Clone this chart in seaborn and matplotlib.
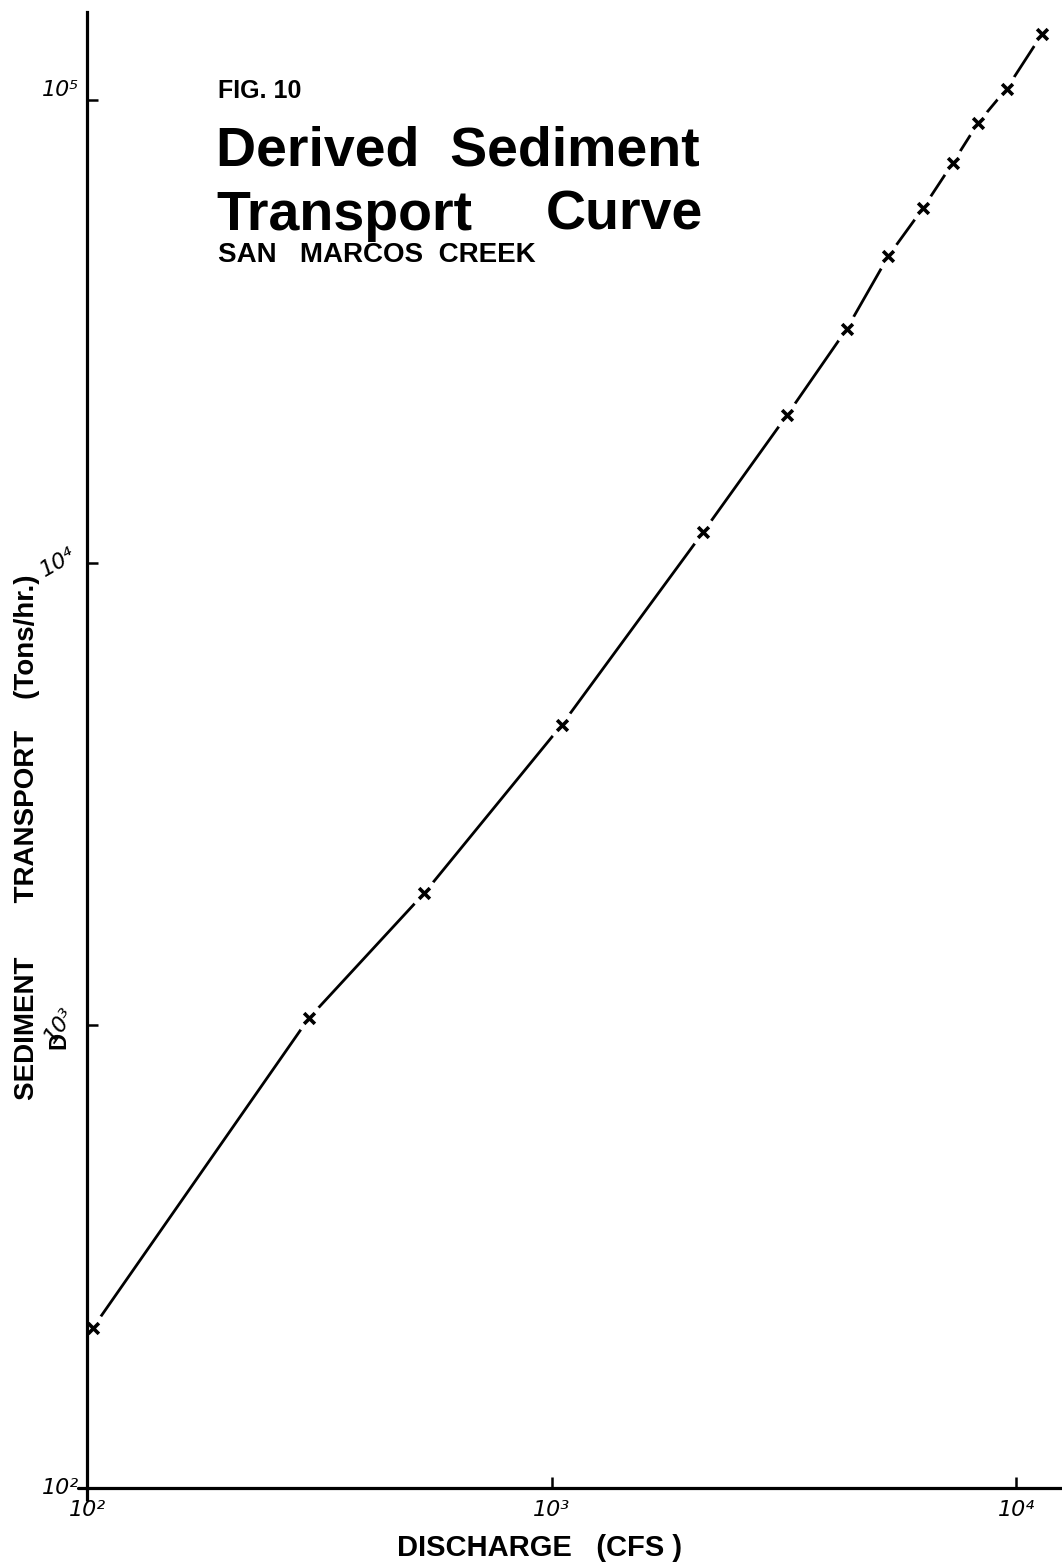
import matplotlib
matplotlib.use("Agg")
import matplotlib.pyplot as plt
import seaborn as sns
import pandas as pd
from matplotlib.ticker import NullLocator

# values
discharge = [103, 300, 532, 1052, 2120, 3220, 4320, 5310, 6300, 7300, 8290, 9550, 11360]
transport = [222, 1035, 1930, 4460, 11640, 20900, 32000, 46000, 58300, 73000, 89300, 105900, 138600]

x_ticks = [100, 1000, 10000]
x_tick_labels = ["10²", "10³", "10⁴"]
y_ticks = [100, 1000, 10000, 100000]
y_tick_labels = ["10²", "10³", "10⁴", "10⁵"]

data = pd.DataFrame({"Discharge": discharge, "Transport": transport})

sns.set_style("white")
plt.rcParams["font.family"] = ["Liberation Sans", "DejaVu Sans"]
plt.rcParams["text.color"] = "black"
plt.rcParams["axes.labelcolor"] = "black"

fig = plt.figure(figsize=(10.62, 15.64), dpi=100)
ax = fig.add_axes([87 / 1062, 76 / 1564, 975 / 1062, 1476 / 1564])
ax.set_xscale("log")
ax.set_yscale("log")

# curve, with breaks around each plotted point
sns.lineplot(data=data, x="Discharge", y="Transport", color="black", linewidth=2.0,
             ax=ax, zorder=2)
ax.scatter(data["Discharge"], data["Transport"], s=420, color="white", linewidths=0, zorder=3)
sns.scatterplot(data=data, x="Discharge", y="Transport", marker="x", s=60, linewidth=2.6,
                color="black", ax=ax, zorder=4)

ax.set_xlim(100, 12560)
ax.set_ylim(100, 155000)

# axes look
for side in ["top", "right"]:
    ax.spines[side].set_visible(False)
for side in ["left", "bottom"]:
    ax.spines[side].set_linewidth(2.3)
    ax.spines[side].set_color("black")
    ax.spines[side].set_zorder(5)
ax.plot([0, 0], [-0.008, 0], transform=ax.transAxes, color="black", lw=2.3, clip_on=False)
ax.plot([-0.009, 0], [0, 0], transform=ax.transAxes, color="black", lw=2.3, clip_on=False)

ax.xaxis.set_minor_locator(NullLocator())
ax.yaxis.set_minor_locator(NullLocator())
ax.set_xticks(x_ticks)
ax.set_xticklabels(x_tick_labels)
ax.set_yticks(y_ticks)
ax.set_yticklabels(y_tick_labels)
ax.tick_params(axis="both", which="major", direction="in", length=8, width=1.8,
               colors="black", labelsize=16, bottom=True, left=True)
ax.tick_params(axis="x", pad=9)
ax.tick_params(axis="y", pad=6)
for lab in ax.get_xticklabels() + ax.get_yticklabels():
    lab.set_fontstyle("italic")
    lab.set_family("DejaVu Sans")
for lab, rot, va in zip(ax.get_yticklabels(), [0, 55, 30, 0],
                        ["center", "center", "center", "bottom"]):
    lab.set_rotation(rot)
    lab.set_va(va)

# axis titles
ax.set_xlabel("DISCHARGE   (CFS )", fontsize=21, fontweight="bold")
ax.xaxis.set_label_coords(0.464, -0.031)
ax.set_ylabel("SEDIMENT       TRANSPORT    (Tons/hr.)", fontsize=20, fontweight="bold")
ax.yaxis.set_label_coords(-0.048, 0.441)
fig.text(59 / 1062, 1 - 1040 / 1564, "D", rotation=90, fontsize=17, fontweight="bold",
         ha="center", va="center")

# title block
fig.text(218 / 1062, 1 - 98 / 1564, "FIG. 10", fontsize=18, fontweight="bold",
         ha="left", va="baseline")
fig.text(216 / 1062, 1 - 166 / 1564, "Derived  Sediment", fontsize=40, fontweight="bold",
         ha="left", va="baseline")
fig.text(216 / 1062, 1 - 230 / 1564, "Transport", fontsize=40, fontweight="bold",
         ha="left", va="baseline")
fig.text(546 / 1062, 1 - 230 / 1564, "Curve", fontsize=40, fontweight="bold",
         ha="left", va="baseline")
fig.text(218 / 1062, 1 - 262 / 1564, "SAN   MARCOS  CREEK", fontsize=20, fontweight="bold",
         ha="left", va="baseline")

fig.savefig("out.png", dpi=100)
